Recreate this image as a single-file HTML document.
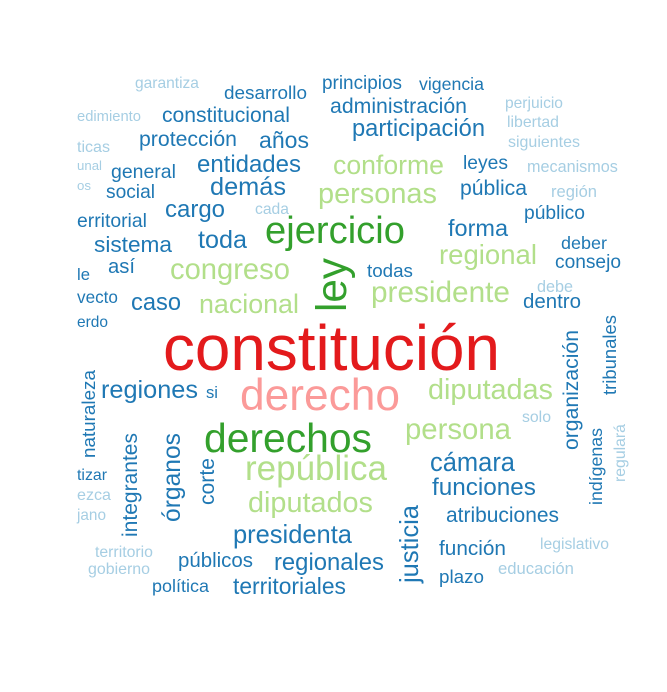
<!DOCTYPE html>
<html><head><meta charset="utf-8"><style>
html,body{margin:0;padding:0;background:#fff;}
svg{display:block;font-family:"Liberation Sans",Arial,sans-serif;}
</style></head><body>
<svg id="cloud" width="667" height="692" viewBox="0 0 667 692">
<defs><clipPath id="clip"><rect x="76" y="70" width="566" height="526"/></clipPath></defs>
<g id="words" clip-path="url(#clip)"></g>
</svg>
<script>
// word, frequency (drives colour band)
const words = ["garantiza","desarrollo","principios","vigencia","edimiento","constitucional","administración","perjuicio","libertad","siguientes","ticas","participación","protección","años","unal","general","entidades","conforme","leyes","mecanismos","os","social","demás","personas","pública","región","cada","cargo","público","erritorial","ejercicio","forma","sistema","toda","deber","le","así","congreso","ley","todas","regional","consejo","vecto","caso","nacional","presidente","debe","dentro","erdo","constitución","organización","tribunales","naturaleza","regiones","si","derecho","diputadas","solo","persona","integrantes","órganos","corte","derechos","república","cámara","indígenas","regulará","tizar","ezca","jano","funciones","diputados","atribuciones","justicia","presidenta","función","legislativo","territorio","públicos","regionales","gobierno","plazo","educación","política","territoriales"];
const freq = [14,17,16,16,14,18,19,14,14,14,14,21,18,20,14,17,21,24,17,14,14,16,21,27,18,14,14,20,16,17,32,20,19,21,15,15,16,25,32,15,24,16,16,19,24,26,14,17,16,64,18,15,16,20,15,42,25,14,27,17,20,17,40,30,20,16,13,15,14,14,20,25,18,21,21,17,14,14,18,20,14,16,14,16,20];
// layout: [x, baseline y, rendered width, vertical?]
const layout = [[135,88,64,0],[224,99,83,0],[322,89,80,0],[419,90,65,0],[77,121,64,0],[162,122,128,0],[330,113,137,0],[505,108,58,0],[507,127,52,0],[508,147,72,0],[77,152,33,0],[352,136,133,0],[139,146,98,0],[259,148,50,0],[77,170,25,0],[111,178,65,0],[197,172,104,0],[333,174,111,0],[463,169,45,0],[527,172,91,0],[77,190,14,0],[106,198,49,0],[210,195,76,0],[318,203,119,0],[460,195,67,0],[551,197,46,0],[255,214,34,0],[165,217,60,0],[524,219,61,0],[77,227,70,0],[265,243,140,0],[448,236,60,0],[94,252,78,0],[198,248,49,0],[561,249,46,0],[77,280,13,0],[108,273,27,0],[170,279,120,0],[346,312,54,1],[367,277,46,0],[439,264,98,0],[555,268,66,0],[77,303,41,0],[131,310,50,0],[199,313,100,0],[371,302,139,0],[537,292,36,0],[523,308,58,0],[77,327,31,0],[163,370,337,0],[578,450,120,1],[616,395,80,1],[95,458,88,1],[101,398,97,0],[206,398,12,0],[240,410,160,0],[428,399,125,0],[522,422,29,0],[405,439,106,0],[137,537,104,1],[180,522,89,1],[214,505,47,1],[204,452,168,0],[245,480,142,0],[430,471,85,0],[602,505,77,1],[625,482,58,1],[77,480,30,0],[77,500,34,0],[77,520,29,0],[432,495,104,0],[248,512,125,0],[446,522,113,0],[418,583,78,1],[233,543,119,0],[439,555,67,0],[540,549,69,0],[95,557,58,0],[178,567,75,0],[274,570,110,0],[88,574,62,0],[439,583,45,0],[498,574,76,0],[152,592,57,0],[233,594,113,0]];
function colorFor(f){
  if(f>=60) return "#e31a1c";
  if(f>=41) return "#fb9a99";
  if(f>=32) return "#33a02c";
  if(f>=24) return "#b2df8a";
  if(f>=15) return "#1f78b4";
  return "#a6cee3";
}
const g = document.getElementById("words");
const NS = "http://www.w3.org/2000/svg";
words.forEach((w,i)=>{
  const [x,y,wd,v] = layout[i];
  const t = document.createElementNS(NS,"text");
  
  
  t.setAttribute("x", x);
  t.setAttribute("y", y);
  t.setAttribute("font-size", freq[i]);
  t.setAttribute("fill", colorFor(freq[i]));
  if(v){
    t.setAttribute("x", 0); t.setAttribute("y", 0);
    t.setAttribute("transform", "translate(" + x + "," + y + ") rotate(-90)");
  }
  t.textContent = w;
  g.appendChild(t);
  const len = t.getComputedTextLength();
  if(len > 0){
    t.setAttribute("font-size", (freq[i] * wd / len).toFixed(2));
  }
});
</script>
</body></html>
